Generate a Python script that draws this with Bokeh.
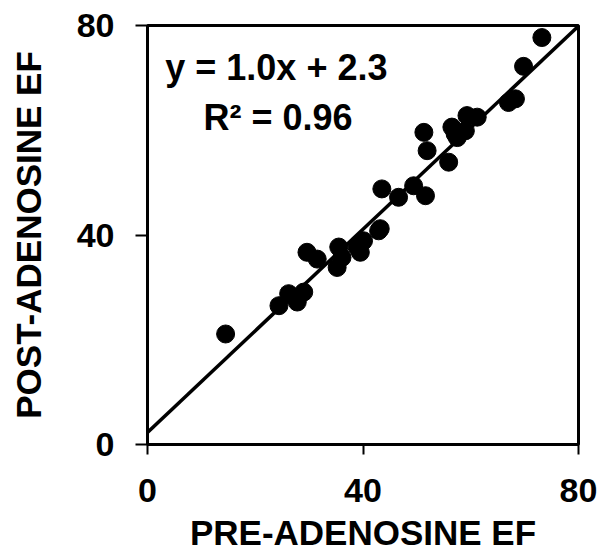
from bokeh.plotting import figure
from bokeh.models import FixedTicker, Range1d, Label
from bokeh.embed import file_html
from bokeh.resources import INLINE

# Data
pre_ef = [14.5, 24.4, 26.2, 27.8, 29.0, 29.6, 31.5, 35.2, 35.5, 36.1, 38.9, 39.5,
          40.1, 42.9, 43.2, 43.5, 46.6, 49.4, 51.6, 51.3, 51.9, 55.9, 56.5, 57.1,
          57.5, 59.0, 59.3, 61.2, 67.0, 68.3, 69.8, 73.2]
post_ef = [21.1, 26.5, 28.8, 27.2, 29.1, 36.7, 35.4, 33.8, 37.7, 35.7, 37.7, 36.7,
           38.9, 40.8, 41.2, 48.8, 47.2, 49.4, 47.5, 59.6, 56.1, 53.9, 60.6, 59.3,
           58.6, 59.9, 62.8, 62.5, 65.3, 66.0, 72.2, 77.7]
ticks = [0, 40, 80]
fit_slope = 0.97
fit_intercept = 2.3
fit_x = [0, 80]
eq_text = "y = 1.0x + 2.3"
r2_text = "R\u00b2 = 0.96"

FONT = "Liberation Sans"

p = figure(width=597, height=554, output_backend="svg", toolbar_location=None,
           x_range=Range1d(0, 80), y_range=Range1d(0, 80),
           min_border_left=147, min_border_top=25, min_border_right=19,
           min_border_bottom=110)

p.xgrid.visible = False
p.ygrid.visible = False
p.outline_line_color = "black"
p.outline_line_width = 3
p.background_fill_color = "white"
p.border_fill_color = "white"

for ax in (p.xaxis[0], p.yaxis[0]):
    ax.ticker = FixedTicker(ticks=ticks)
    ax.minor_tick_line_color = None
    ax.axis_line_width = 3
    ax.axis_line_color = "black"
    ax.major_tick_line_color = "black"
    ax.major_tick_line_width = 2
    ax.major_tick_in = 0
    ax.major_label_text_font = FONT
    ax.major_label_text_font_style = "bold"
    ax.major_label_text_font_size = "34px"
    ax.major_label_text_color = "black"
    ax.axis_label_text_font = FONT
    ax.axis_label_text_font_style = "bold"
    ax.axis_label_text_font_size = "35px"
    ax.axis_label_text_color = "black"

p.xaxis.axis_label = "PRE-ADENOSINE EF"
p.yaxis.axis_label = "POST-ADENOSINE EF"
p.xaxis.major_tick_out = 10
p.yaxis.major_tick_out = 12
p.xaxis.major_label_standoff = 24
p.yaxis.major_label_standoff = 21
p.xaxis.axis_label_standoff = 8
p.xaxis.axis_label_text_line_height = 0.85
p.xaxis.major_label_text_line_height = 0.9
p.yaxis.axis_label_standoff = 26

fit_y = [fit_slope * x + fit_intercept for x in fit_x]
p.line(fit_x, fit_y, line_color="black", line_width=3.5)

p.scatter(pre_ef, post_ef, size=18, marker="circle",
          fill_color="black", line_color="black")

p.add_layout(Label(x=3.3, y=72.0, text=eq_text, text_font=FONT,
                   text_font_style="bold", text_font_size="36px",
                   text_color="black", text_baseline="alphabetic"))
p.add_layout(Label(x=10.4, y=62.5, text=r2_text, text_font=FONT,
                   text_font_style="bold", text_font_size="36px",
                   text_color="black", text_baseline="alphabetic"))

open("out.html", "w").write(file_html(p, INLINE))
